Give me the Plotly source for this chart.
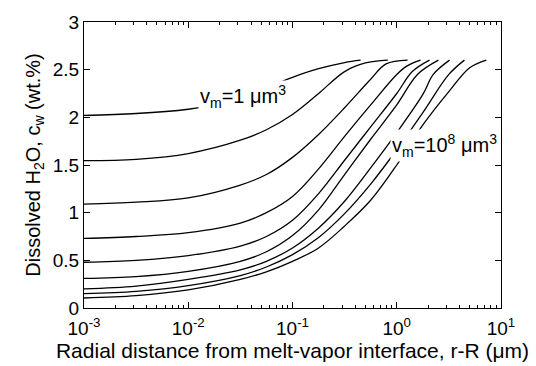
import plotly.graph_objects as go

# radial distance r-R (um) and dissolved water c_w (wt.%) for each melt volume v_m
x_vm1e0 = [0.001, 0.00316, 0.01, 0.0178, 0.0316, 0.0562, 0.1, 0.178, 0.316, 0.45]
c_vm1e0 = [2.02, 2.04, 2.085, 2.13, 2.21, 2.31, 2.42, 2.51, 2.575, 2.6]

x_vm1e1 = [0.001, 0.00316, 0.01, 0.0316, 0.0562, 0.1, 0.178, 0.316, 0.5, 0.82]
c_vm1e1 = [1.545, 1.56, 1.62, 1.76, 1.87, 2.03, 2.25, 2.48, 2.57, 2.6]

x_vm1e2 = [0.001, 0.00316, 0.01, 0.0316, 0.0562, 0.1, 0.178, 0.316, 0.562, 0.79, 1.27]
c_vm1e2 = [1.09, 1.11, 1.155, 1.29, 1.40, 1.58, 1.82, 2.10, 2.40, 2.56, 2.6]

x_vm1e3 = [0.001, 0.00316, 0.01, 0.0316, 0.0562, 0.1, 0.178, 0.316, 0.562, 1.0, 1.26, 1.69]
c_vm1e3 = [0.73, 0.75, 0.79, 0.89, 1.00, 1.17, 1.46, 1.80, 2.13, 2.45, 2.54, 2.6]

x_vm1e4 = [0.001, 0.00316, 0.01, 0.0316, 0.0562, 0.1, 0.178, 0.316, 0.562, 1.0, 1.41, 2.06]
c_vm1e4 = [0.48, 0.50, 0.55, 0.65, 0.75, 0.92, 1.20, 1.55, 1.90, 2.25, 2.48, 2.6]

x_vm1e5 = [0.001, 0.00316, 0.01, 0.0316, 0.0562, 0.1, 0.178, 0.316, 0.562, 1.0, 1.58, 2.51]
c_vm1e5 = [0.31, 0.33, 0.385, 0.49, 0.59, 0.76, 1.03, 1.40, 1.77, 2.13, 2.45, 2.6]

x_vm1e6 = [0.001, 0.00316, 0.01, 0.0316, 0.0562, 0.1, 0.178, 0.316, 0.562, 1.0, 1.78, 2.24, 3.21]
c_vm1e6 = [0.20, 0.23, 0.30, 0.40, 0.49, 0.63, 0.84, 1.12, 1.47, 1.84, 2.24, 2.45, 2.6]

x_vm1e7 = [0.001, 0.00316, 0.01, 0.0316, 0.0562, 0.1, 0.178, 0.316, 0.562, 1.0, 1.78, 3.16, 4.46]
c_vm1e7 = [0.15, 0.175, 0.235, 0.34, 0.43, 0.56, 0.74, 0.99, 1.30, 1.66, 2.05, 2.45, 2.6]

x_vm1e8 = [0.001, 0.00316, 0.01, 0.0316, 0.0562, 0.1, 0.178, 0.316, 0.562, 1.0, 1.78, 3.16, 5.01, 7.24]
c_vm1e8 = [0.105, 0.13, 0.19, 0.30, 0.38, 0.49, 0.63, 0.86, 1.13, 1.50, 1.92, 2.27, 2.52, 2.6]

curves = [
    (x_vm1e0, c_vm1e0), (x_vm1e1, c_vm1e1), (x_vm1e2, c_vm1e2),
    (x_vm1e3, c_vm1e3), (x_vm1e4, c_vm1e4), (x_vm1e5, c_vm1e5),
    (x_vm1e6, c_vm1e6), (x_vm1e7, c_vm1e7), (x_vm1e8, c_vm1e8),
]

x_tickvals = [0.001, 0.01, 0.1, 1, 10]
x_ticktext = ["10<sup>-3</sup>", "10<sup>-2</sup>", "10<sup>-1</sup>", "10<sup>0</sup>", "10<sup>1</sup>"]
y_tickvals = [0, 0.5, 1, 1.5, 2, 2.5, 3]
y_ticktext = ["0", "0.5", "1", "1.5", "2", "2.5", "3"]

FONT = "Liberation Sans, Arial, Helvetica, sans-serif"

fig = go.Figure()
for xs, cs in curves:
    fig.add_trace(go.Scatter(x=xs, y=cs, mode="lines",
                             line=dict(color="black", width=1.3, shape="spline", smoothing=1.0),
                             showlegend=False, hoverinfo="skip"))

fig.add_annotation(x=-1.472, y=2.22, xref="x", yref="y",
                   text="v<sub>m</sub>=1 μm<sup>3</sup>", showarrow=False,
                   bgcolor="white", borderpad=1, font=dict(family=FONT, size=20, color="black"))
fig.add_annotation(x=0.46, y=1.70, xref="x", yref="y",
                   text="v<sub>m</sub>=10<sup>8</sup> μm<sup>3</sup>", showarrow=False,
                   bgcolor="white", borderpad=1, font=dict(family=FONT, size=20, color="black"))

fig.update_layout(
    width=536, height=366,
    margin=dict(l=84, r=35, t=16, b=57),
    paper_bgcolor="white", plot_bgcolor="white",
    font=dict(family=FONT, size=19, color="black"),
    showlegend=False,
)
fig.update_xaxes(
    type="log", range=[-3, 1],
    tickvals=x_tickvals, ticktext=x_ticktext,
    ticks="inside", ticklen=6, tickcolor="black",
    showline=True, linecolor="black", linewidth=1, mirror="allticks",
    showgrid=False, zeroline=False,
    minor=dict(ticks="inside", ticklen=3, tickcolor="black", dtick="D1", showgrid=False),
    tickfont=dict(size=19), ticklabelstandoff=3,
    title=dict(text="Radial distance from melt-vapor interface, r-R (μm)", font=dict(size=21), standoff=1),
)
fig.update_yaxes(
    range=[0, 3],
    tickvals=y_tickvals, ticktext=y_ticktext,
    ticks="inside", ticklen=6, tickcolor="black",
    showline=True, linecolor="black", linewidth=1, mirror="allticks",
    showgrid=False, zeroline=False,
    tickfont=dict(size=19),
    title=dict(text="Dissolved H<sub>2</sub>O, c<sub>w</sub> (wt.%)", font=dict(size=20), standoff=6),
)

fig.write_html("out.html")
